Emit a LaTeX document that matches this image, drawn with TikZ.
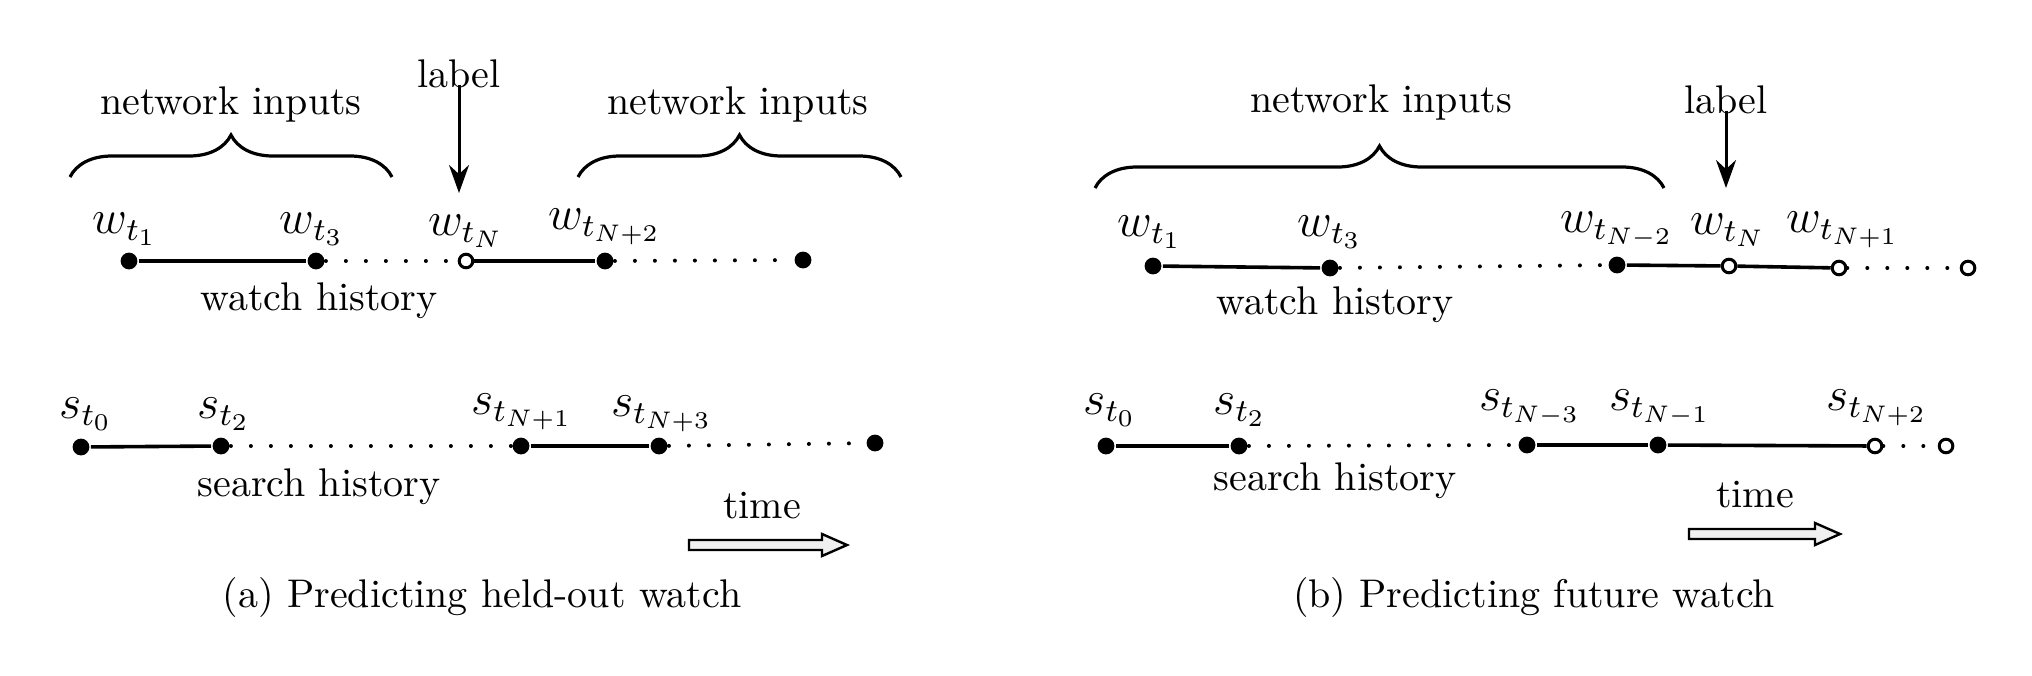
\documentclass[tikz,border=0pt]{standalone}
\usetikzlibrary{positioning,decorations.pathreplacing,arrows.meta}
\tikzset{every picture/.style={line width=0.75pt}}
\tikzset{
  dot/.style={circle,fill=black,inner sep=0pt,minimum size=4.2pt},
  odot/.style={circle,draw=black,fill=white,line width=0.75pt,inner sep=0pt,minimum size=3.4pt},
  lbl/.style={inner sep=0.75pt,font=\large},
  solidseg/.style={line width=0.9pt},
  dotseg/.style={line width=1pt,line cap=round,dash pattern=on 0pt off 5pt},
  netbrace/.style={decorate,decoration={brace,amplitude=10.5pt},line width=0.8pt},
  tarrow/.style={line width=0.6pt,fill=black!6},
}
\begin{document}
\begin{tikzpicture}[x=0.25pt,y=0.25pt,yscale=-1,xscale=1]
    \useasboundingbox (0,0) rectangle (2032,675);

    %% ---------------- (a) Predicting held-out watch ----------------
    % watch row
    \node [dot]  (aw1) at (129,261) {};
    \node [dot]  (aw3) at (316,261) {};
    \node [odot] (awN) at (466,261) {};
    \node [dot]  (awN2) at (605,261) {};
    \node [dot]  (awE) at (803,260) {};
    \draw [solidseg] (aw1) -- (aw3) ;
    \draw [dotseg]   (aw3) -- (awN) ;
    \draw [solidseg] (awN) -- (awN2) ;
    \draw [dotseg]   (awN2) -- (awE) ;
    % Text Node
    \node [lbl] (law1) at (125,229) {$w_{t_1}$};
    \node [lbl] (law3) at (312,229) {$w_{t_3}$};
    \node [lbl] (lawN) at (466,231) {$w_{t_N}$};
    \node [lbl] (lawN2) at (605,227) {$w_{t_{N+2}}$};
    \node [inner sep=0.75pt] (awh) at (319,301) {watch history};

    % search row
    \node [dot] (as0) at (81,447) {};
    \node [dot] (as2) at (221,446) {};
    \node [dot] (asN1) at (521,446) {};
    \node [dot] (asN3) at (659,446) {};
    \node [dot] (asE) at (875,443) {};
    \draw [solidseg] (as0) -- (as2) ;
    \draw [dotseg]   (as2) -- (asN1) ;
    \draw [solidseg] (asN1) -- (asN3) ;
    \draw [dotseg]   (asN3) -- (asE) ;
    % Text Node
    \node [lbl] (las0) at (86,414) {$s_{t_0}$};
    \node [lbl] (las2) at (224,414) {$s_{t_2}$};
    \node [lbl] (lasN1) at (522,412) {$s_{t_{N+1}}$};
    \node [lbl] (lasN3) at (662,414) {$s_{t_{N+3}}$};
    \node [inner sep=0.75pt] (ash) at (319,487) {search history};

    % braces and label
    \coordinate (ab1s) at (70,177);  \coordinate (ab1e) at (392,177);
    \coordinate (ab2s) at (578,177); \coordinate (ab2e) at (901,177);
    \draw [netbrace] (ab1s) -- (ab1e) ;
    \draw [netbrace] (ab2s) -- (ab2e) ;
    \node [inner sep=0.75pt] (ani1) at (231,104) {network inputs};
    \node [inner sep=0.75pt] (ani2) at (738,104) {network inputs};
    \node [inner sep=0.75pt] (alabel) at (459,74) {label};
    \coordinate (alabtip) at (459,193);
    \draw [-{Stealth[length=7pt,width=5pt]}] (alabel.south) ++(0,-8) -- (alabtip) ;

    % time
    \node [inner sep=0.75pt] (atime) at (762,506) {time};
    \draw [tarrow] (689,540) -- (822,540) -- (822,534) -- (847,545) -- (822,556) -- (822,550) -- (689,550) -- cycle ;
    \node [inner sep=0.75pt] (acap) at (482,597) {(a) Predicting held-out watch};

    %% ---------------- (b) Predicting future watch ----------------
    % watch row
    \node [dot]  (bw1) at (1153,266) {};
    \node [dot]  (bw3) at (1330,268) {};
    \node [dot]  (bwN2) at (1617,265) {};
    \node [odot] (bwN) at (1729,266) {};
    \node [odot] (bwN1) at (1839,268) {};
    \node [odot] (bwE) at (1968,268) {};
    \draw [solidseg] (bw1) -- (bw3) ;
    \draw [dotseg]   (bw3) -- (bwN2) ;
    \draw [solidseg] (bwN2) -- (bwN) ;
    \draw [solidseg] (bwN) -- (bwN1) ;
    \draw [dotseg]   (bwN1) -- (bwE) ;
    % Text Node
    \node [lbl] (lbw1) at (1150,232) {$w_{t_1}$};
    \node [lbl] (lbw3) at (1330,232) {$w_{t_3}$};
    \node [lbl] (lbwN2) at (1617,230) {$w_{t_{N-2}}$};
    \node [lbl] (lbwN) at (1728,230) {$w_{t_N}$};
    \node [lbl] (lbwN1) at (1843,230) {$w_{t_{N+1}}$};
    \node [inner sep=0.75pt] (bwh) at (1335,305) {watch history};

    % search row
    \node [dot]  (bs0) at (1106,446) {};
    \node [dot]  (bs2) at (1239,446) {};
    \node [dot]  (bsN3) at (1527,445) {};
    \node [dot]  (bsN1) at (1658,445) {};
    \node [odot] (bsN2) at (1875,446) {};
    \node [odot] (bsE) at (1946,446) {};
    \draw [solidseg] (bs0) -- (bs2) ;
    \draw [dotseg]   (bs2) -- (bsN3) ;
    \draw [solidseg] (bsN3) -- (bsN1) ;
    \draw [solidseg] (bsN1) -- (bsN2) ;
    \draw [dotseg]   (bsN2) -- (bsE) ;
    % Text Node
    \node [lbl] (lbs0) at (1110,410) {$s_{t_0}$};
    \node [lbl] (lbs2) at (1240,410) {$s_{t_2}$};
    \node [lbl] (lbsN3) at (1530,408) {$s_{t_{N-3}}$};
    \node [lbl] (lbsN1) at (1660,408) {$s_{t_{N-1}}$};
    \node [lbl] (lbsN2) at (1877,408) {$s_{t_{N+2}}$};
    \node [inner sep=0.75pt] (bsh) at (1335,481) {search history};

    % brace and label
    \coordinate (bbs) at (1095,188); \coordinate (bbe) at (1664,188);
    \draw [netbrace] (bbs) -- (bbe) ;
    \node [inner sep=0.75pt] (bni) at (1381,102) {network inputs};
    \node [inner sep=0.75pt] (blabel) at (1726,100) {label};
    \coordinate (blabtip) at (1726,188);
    \draw [-{Stealth[length=7pt,width=5pt]}] (blabel.south) ++(0,-8) -- (blabtip) ;

    % time
    \node [inner sep=0.75pt] (btime) at (1755,495) {time};
    \draw [tarrow] (1689,529) -- (1815,529) -- (1815,523) -- (1840,534) -- (1815,545) -- (1815,539) -- (1689,539) -- cycle ;
    \node [inner sep=0.75pt] (bcap) at (1534,597) {(b) Predicting future watch};

\end{tikzpicture}
\end{document}
